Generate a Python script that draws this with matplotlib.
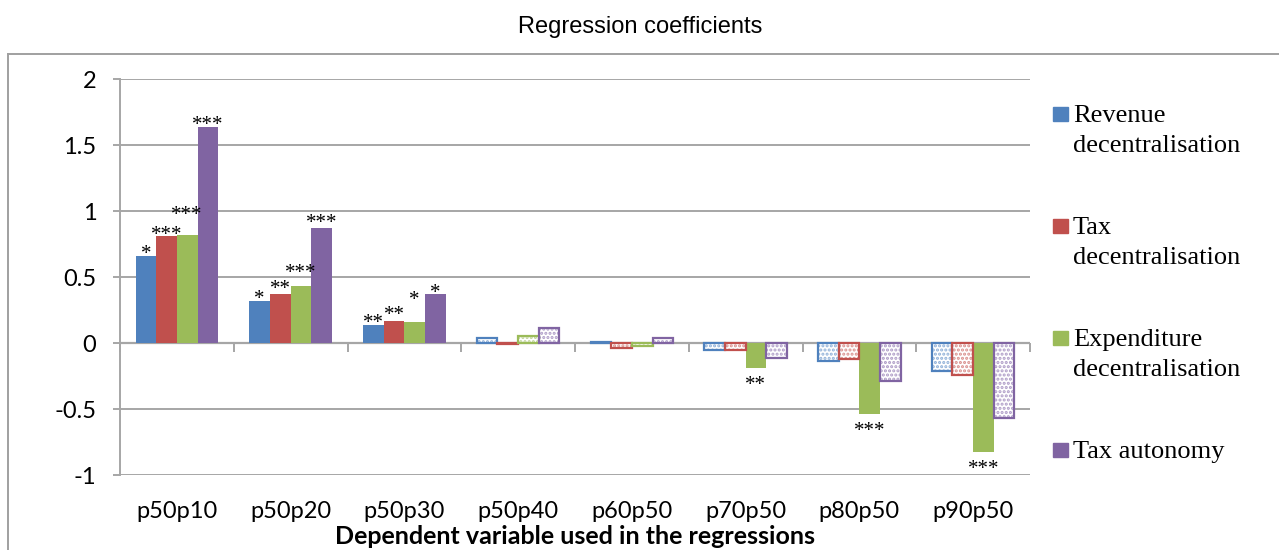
"""Regression coefficients by dependent variable, clustered bars."""
import numpy as np
import matplotlib.pyplot as plt
from matplotlib.lines import Line2D
from matplotlib.patches import Rectangle

categories = ["p50p10", "p50p20", "p50p30", "p50p40",
              "p60p50", "p70p50", "p80p50", "p90p50"]
series = ["Revenue\ndecentralisation", "Tax\ndecentralisation",
          "Expenditure\ndecentralisation", "Tax autonomy"]

revenue = [0.66, 0.32, 0.14, 0.04, 0.01, -0.05, -0.14, -0.21]
tax = [0.81, 0.37, 0.165, -0.005, -0.035, -0.05, -0.12, -0.24]
expenditure = [0.82, 0.43, 0.16, 0.055, -0.02, -0.19, -0.54, -0.825]
autonomy = [1.64, 0.87, 0.37, 0.11, 0.04, -0.11, -0.29, -0.565]

stars_revenue = ["*", "*", "**", "", "", "", "", ""]
stars_tax = ["***", "**", "**", "", "", "", "", ""]
stars_expenditure = ["***", "***", "*", "", "", "**", "***", "***"]
stars_autonomy = ["***", "***", "*", "", "", "", "", ""]

values = [revenue, tax, expenditure, autonomy]
stars = [stars_revenue, stars_tax, stars_expenditure, stars_autonomy]

colors = ["#4F81BD", "#C0504D", "#9BBB59", "#8064A2"]
dot_colors = ["#8fb0d8", "#d98f8c", "#bdd293", "#ad9bc6"]
# extra lift (px) of some star labels, as placed by hand in the original
label_lift = [
    [0, 0, 0, 0, 0, 0, 0, 0],
    [0, 4, 5, 0, 0, 0, 0, 0],
    [18, 12, 20, 0, 0, 0, 0, 0],
    [0, 4, 0, 0, 0, 0, 0, 0],
]

W, H = 1279, 550
fig = plt.figure(figsize=(W / 100, H / 100), dpi=100)
ax = fig.add_axes([120 / W, (H - 475) / H, 910 / W, 396 / H])

grid_c = "#a6a6a6"
plt.rcParams["hatch.linewidth"] = 1.5

n = len(categories)
x = np.arange(n)
bw = 1 / 5.5
for s, vals in enumerate(values):
    xs = x + (s - 1.5) * bw
    for i, v in enumerate(vals):
        if stars[s][i]:
            ax.bar(xs[i], v, bw, color=colors[s], linewidth=0, zorder=3)
        else:
            ax.bar(xs[i], v, bw, facecolor="white", edgecolor=dot_colors[s],
                   hatch="....", linewidth=0, zorder=3)
            ax.bar(xs[i], v, bw, facecolor="none", edgecolor=colors[s],
                   linewidth=1.6, zorder=4)
        if stars[s][i]:
            if v >= 0:
                dy = -3.5 + label_lift[s][i]
            else:
                dy = -22
            ax.annotate(stars[s][i], (xs[i], v), xytext=(0, dy * 0.72),
                        textcoords="offset points", ha="center", va="baseline",
                        fontsize=15, family="Liberation Serif", zorder=5)

ax.set_xlim(-0.5, n - 0.5)
ax.set_ylim(-1, 2)
ax.set_yticks(np.arange(-1, 2.01, 0.5))
ax.set_yticklabels(["-1", "-0.5", "0", "0.5", "1", "1.5", "2"])
ax.grid(axis="y", color=grid_c, linewidth=1.4, zorder=0)
ax.axhline(0, color=grid_c, linewidth=1.6, zorder=2)

for side in ["top", "right"]:
    ax.spines[side].set_visible(False)
ax.spines["left"].set_color(grid_c)
ax.spines["left"].set_linewidth(1.4)
ax.spines["bottom"].set_position(("data", 0))
ax.spines["bottom"].set_visible(False)
ax.set_xticks(np.arange(-0.5, n, 1.0))
ax.set_xticklabels([])
ax.tick_params(axis="x", direction="out", length=6.5, width=1.4, color=grid_c)
ax.tick_params(axis="y", direction="out", length=5, width=1.4, color=grid_c,
               pad=12, labelsize=17)
for lab in ax.get_yticklabels():
    lab.set_family("Lato")

for i, c in enumerate(categories):
    ax.text(i, -0.092, c, transform=ax.get_xaxis_transform(), ha="center",
            va="center", fontsize=17, family="Lato")
ax.text(0.5, -0.155, "Dependent variable used in the regressions",
        transform=ax.transAxes, ha="center", va="center", fontsize=18,
        family="Lato", fontweight="bold")

fig.text(640 / W, (H - 27) / H, "Regression coefficients", ha="center",
         va="center", fontsize=17, family="Liberation Sans")

# legend drawn by hand so the markers sit on the first text line
for s, name in enumerate(series):
    cy = 114 + 112 * s
    fig.add_artist(Rectangle((1053 / W, (H - cy - 7) / H), 15 / W, 14 / H,
                             transform=fig.transFigure, color=colors[s]))
    for k, line in enumerate(name.split("\n")):
        fig.text(1073 / W, (H - cy - 8 - 30 * k) / H, line, ha="left",
                 va="baseline", fontsize=19, family="Liberation Serif")

# chart frame
fig.add_artist(Line2D([8 / W, 1], [(H - 54) / H] * 2, color="#a0a0a0", lw=1.4))
fig.add_artist(Line2D([8 / W] * 2, [0, (H - 54) / H], color="#a0a0a0", lw=1.4))

fig.savefig("out.png", dpi=100)
